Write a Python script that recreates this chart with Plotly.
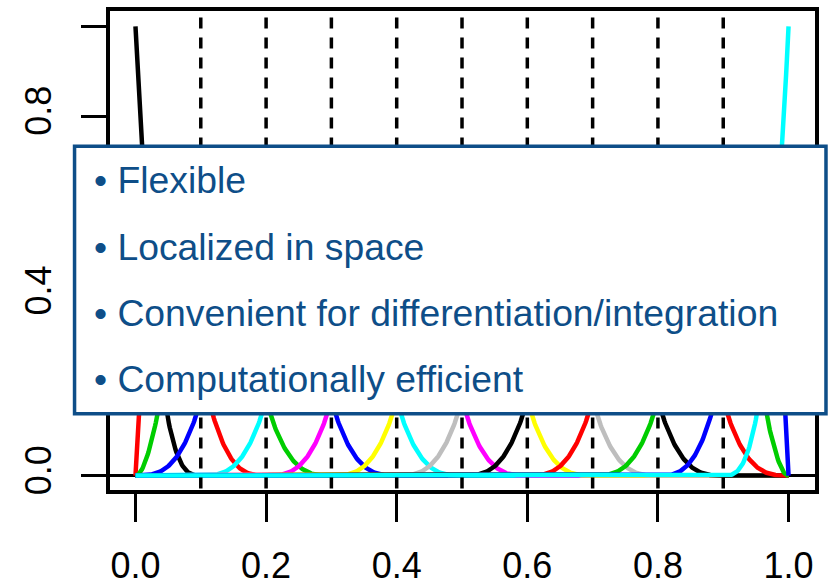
import numpy as np
import plotly.graph_objects as go

# ---- data ----
interior_knots = [0.1, 0.2, 0.3, 0.4, 0.5, 0.6, 0.7, 0.8, 0.9]
boundary_knots = [0.0, 1.0]
spline_degree = 3
r_palette = ["#000000", "#FF0000", "#00CD00", "#0000FF",
             "#00FFFF", "#FF00FF", "#FFFF00", "#BEBEBE"]
x_tickvals = [0.0, 0.2, 0.4, 0.6, 0.8, 1.0]
x_ticktext = ["0.0", "0.2", "0.4", "0.6", "0.8", "1.0"]
y_tickvals = [0.0, 0.2, 0.4, 0.6, 0.8, 1.0]
y_ticktext = ["0.0", "", "0.4", "", "0.8", ""]
bullet_lines = ["Flexible", "Localized in space",
                "Convenient for differentiation/integration",
                "Computationally efficient"]

BOX_BLUE = "#0E4E88"
FONT = "Liberation Sans, Arial, sans-serif"


def bspline_basis(x, t, k):
    """Cox-de Boor recursion; returns matrix (len(x), len(t)-k-1)."""
    x = np.asarray(x, float)
    m = len(t) - 1
    B = np.zeros((len(x), m))
    for i in range(m):
        B[:, i] = ((x >= t[i]) & (x < t[i + 1])).astype(float)
    last = max(i for i in range(m) if t[i] < t[i + 1])
    at_end = x >= t[-1]
    B[at_end, :] = 0.0
    B[at_end, last] = 1.0
    for d in range(1, k + 1):
        Bn = np.zeros((len(x), m - d))
        for i in range(m - d):
            a = np.zeros(len(x))
            b = np.zeros(len(x))
            if t[i + d] > t[i]:
                a = (x - t[i]) / (t[i + d] - t[i]) * B[:, i]
            if t[i + d + 1] > t[i + 1]:
                b = (t[i + d + 1] - x) / (t[i + d + 1] - t[i + 1]) * B[:, i + 1]
            Bn[:, i] = a + b
        B = Bn
    return B


knots = ([boundary_knots[0]] * (spline_degree + 1) + interior_knots
         + [boundary_knots[1]] * (spline_degree + 1))
xs = np.linspace(boundary_knots[0], boundary_knots[1], 801)
basis = bspline_basis(xs, knots, spline_degree)

x_range = [-0.039, 1.0405]
y_range = [-0.032, 1.034]

fig = go.Figure()

for j in range(basis.shape[1]):
    fig.add_trace(go.Scatter(
        x=xs, y=basis[:, j], mode="lines",
        line=dict(color=r_palette[j % len(r_palette)], width=4.5),
        hoverinfo="skip", showlegend=False))

# dashed vertical lines at interior knots (abline)
y_dash_start = y_range[1] + 0.03
for k in interior_knots:
    fig.add_trace(go.Scatter(
        x=[k, k], y=[y_dash_start, y_range[0]], mode="lines",
        line=dict(color="black", width=3.5, dash="11px,9px"),
        hoverinfo="skip", showlegend=False))

# plot area in pixels
L, R, T, B = 109.5, 13.5, 10.5, 95.5
W, H = 829, 586
pw, ph = W - L - R, H - T - B


def px_x(p):
    return (p - L) / pw


def px_y(p):
    return (H - B - p) / ph


fig.add_shape(type="rect", xref="paper", yref="paper",
              x0=px_x(74), x1=px_x(826.5), y0=px_y(414), y1=px_y(146),
              line=dict(color=BOX_BLUE, width=3.5), fillcolor="white",
              layer="above")

line_mid = [180, 246.5, 313, 379.5]
for txt, ym in zip(bullet_lines, line_mid):
    fig.add_annotation(xref="paper", yref="paper", x=px_x(91), y=px_y(ym),
                       xanchor="left", yanchor="middle", showarrow=False,
                       text="\u2022 " + txt,
                       font=dict(family=FONT, size=37.3, color=BOX_BLUE))

axis_common = dict(showline=True, linecolor="black", linewidth=3.5, mirror=True,
                   ticks="outside", tickwidth=3, tickcolor="black",
                   showgrid=False, automargin=False,
                   tickfont=dict(family=FONT, size=36, color="black"))

fig.update_xaxes(range=x_range, tickmode="array", tickvals=x_tickvals,
                 ticktext=x_ticktext, ticklen=28, zeroline=False,
                 ticklabelstandoff=13, **axis_common)
fig.update_yaxes(range=y_range, tickmode="array", tickvals=y_tickvals,
                 ticktext=y_ticktext, ticklen=25, tickangle=-90,
                 zeroline=True, zerolinecolor="black", zerolinewidth=3,
                 ticklabelstandoff=16, **axis_common)

fig.update_layout(width=W, height=H, autosize=False,
                  margin=dict(l=L, r=R, t=T, b=B, pad=0),
                  paper_bgcolor="white", plot_bgcolor="white",
                  showlegend=False)

fig.write_html("out.html")
